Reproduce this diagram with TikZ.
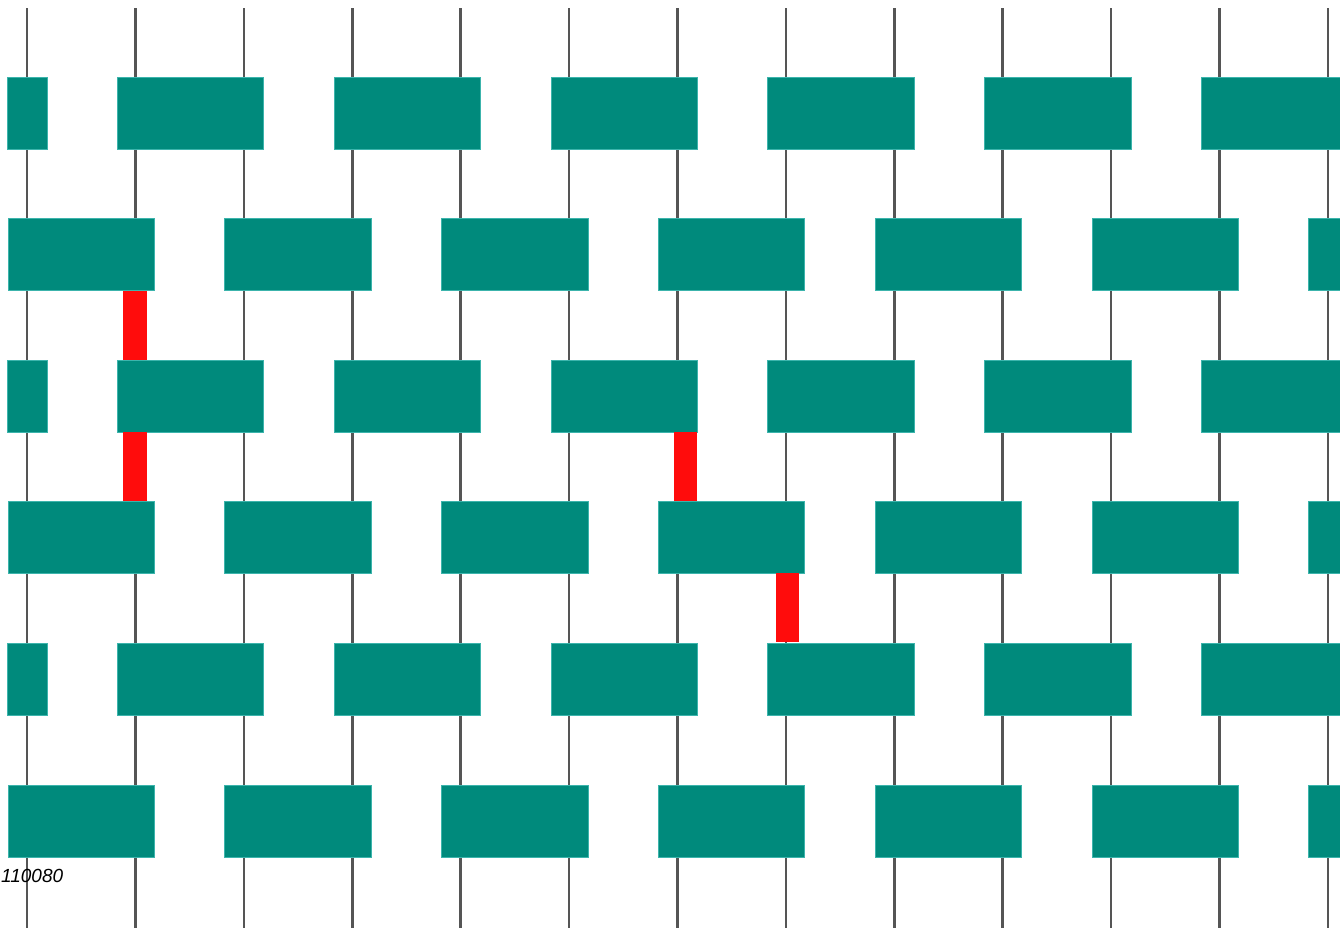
\documentclass[tikz,border=0pt]{standalone}
\usepackage{fontspec}
\setmainfont{Liberation Sans}
\definecolor{gate}{RGB}{0,138,124}
\definecolor{gateedge}{RGB}{60,180,172}
\definecolor{wire}{RGB}{85,85,85}
\definecolor{hot}{RGB}{255,12,12}
\begin{document}
\begin{tikzpicture}[x=1pt,y=-1pt,
  gatebox/.style={fill=gate, draw=gateedge, line width=0.8pt},
  wireline/.style={draw=wire, line width=2.6pt},
  redbar/.style={fill=hot, draw=none},
  lbl/.style={anchor=base west, inner sep=0pt, font=\itshape\fontsize{19}{19}\selectfont}]
\useasboundingbox (0,0) rectangle (1340,927);
\begin{scope}
\clip (0,0) rectangle (1340,927);
% wires
\foreach \k in {0,...,12}
  \draw[wireline] ({27+108.4*\k},8) -- ({27+108.4*\k},930);
% odd rows (1,3,5)
\foreach \t in {77,360,643}{
  \draw[gatebox] (7,\t) rectangle (47,\t+72);
  \foreach \k in {1,3,...,11}
    \draw[gatebox] ({27+108.4*\k-18},\t) rectangle ({27+108.4*(\k+1)+20},\t+72);
}
% even rows (2,4,6)
\foreach \t in {218,501,785}{
  \foreach \k in {0,2,...,12}
    \draw[gatebox] ({27+108.4*\k-19},\t) rectangle ({27+108.4*(\k+1)+19},\t+72);
}
% red highlighted wire segments
\fill[redbar] (123,291) rectangle (147,360);
\fill[redbar] (123,432) rectangle (147,501);
\fill[redbar] (674,432) rectangle (697,501);
\fill[redbar] (776,573) rectangle (799,642);
\end{scope}
\node[lbl] (tag) at (1,882) {110080};
\end{tikzpicture}
\end{document}
